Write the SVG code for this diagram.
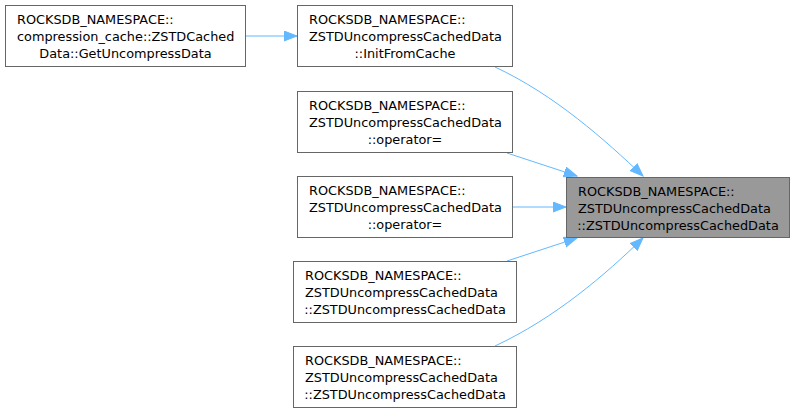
<svg xmlns="http://www.w3.org/2000/svg" width="796" height="414" viewBox="0 0 796 414">
<style>
.box{fill:#ffffff;stroke:#666666;stroke-width:1}
.hl{fill:#999999;stroke:#666666;stroke-width:1}
text{font-family:"DejaVu Sans",sans-serif;font-size:12.85px;fill:#000000}
.m{text-anchor:middle}
.e{fill:none;stroke:#63b8ff;stroke-width:1}
</style>
<defs>
<marker id="ah" markerUnits="userSpaceOnUse" markerWidth="14" markerHeight="12" refX="13" refY="5.5" orient="auto">
<path d="M0,0.5 L13,5.5 L0,10.5 z" fill="#63b8ff" stroke="#63b8ff" stroke-width="1"/>
</marker>
</defs>
<rect width="796" height="414" fill="#ffffff"/>
<g id="connectors">
<path class="e" d="M246,36 L297,36" marker-end="url(#ah)"/>
<path class="e" d="M495,67 C555,95 605,140 643,176" marker-end="url(#ah)"/>
<path class="e" d="M507,153 L577,176" marker-end="url(#ah)"/>
<path class="e" d="M513,207 L566,207" marker-end="url(#ah)"/>
<path class="e" d="M507,261 L577,238" marker-end="url(#ah)"/>
<path class="e" d="M495,346 C555,318 605,275 643,238" marker-end="url(#ah)"/>
</g>
<g id="node_getuncompress">
<rect class="box" x="5.5" y="5.5" width="240" height="61"/>
<text x="17" y="24">ROCKSDB_NAMESPACE::</text>
<text x="17" y="41">compression_cache::ZSTDCached</text>
<text class="m" x="125.5" y="58">Data::GetUncompressData</text>
</g>
<g id="node_initfromcache">
<rect class="box" x="297.5" y="5.5" width="215" height="61"/>
<text x="309" y="24">ROCKSDB_NAMESPACE::</text>
<text x="309" y="41">ZSTDUncompressCachedData</text>
<text class="m" x="405" y="58">::InitFromCache</text>
</g>
<g id="node_operator1">
<rect class="box" x="297.5" y="91.5" width="215" height="61"/>
<text x="309" y="110">ROCKSDB_NAMESPACE::</text>
<text x="309" y="127">ZSTDUncompressCachedData</text>
<text class="m" x="405" y="144">::operator=</text>
</g>
<g id="node_operator2">
<rect class="box" x="297.5" y="176.5" width="215" height="61"/>
<text x="309" y="195">ROCKSDB_NAMESPACE::</text>
<text x="309" y="212">ZSTDUncompressCachedData</text>
<text class="m" x="405" y="229">::operator=</text>
</g>
<g id="node_ctor1">
<rect class="box" x="293.5" y="261.5" width="223" height="61"/>
<text x="305" y="280">ROCKSDB_NAMESPACE::</text>
<text x="305" y="297">ZSTDUncompressCachedData</text>
<text class="m" x="405" y="314">::ZSTDUncompressCachedData</text>
</g>
<g id="node_ctor2">
<rect class="box" x="293.5" y="346.5" width="223" height="61"/>
<text x="305" y="365">ROCKSDB_NAMESPACE::</text>
<text x="305" y="382">ZSTDUncompressCachedData</text>
<text class="m" x="405" y="399">::ZSTDUncompressCachedData</text>
</g>
<g id="node_target">
<rect class="hl" x="566.5" y="177.5" width="223" height="60"/>
<text x="578" y="196">ROCKSDB_NAMESPACE::</text>
<text x="578" y="213">ZSTDUncompressCachedData</text>
<text class="m" x="678" y="230">::ZSTDUncompressCachedData</text>
</g>
</svg>
